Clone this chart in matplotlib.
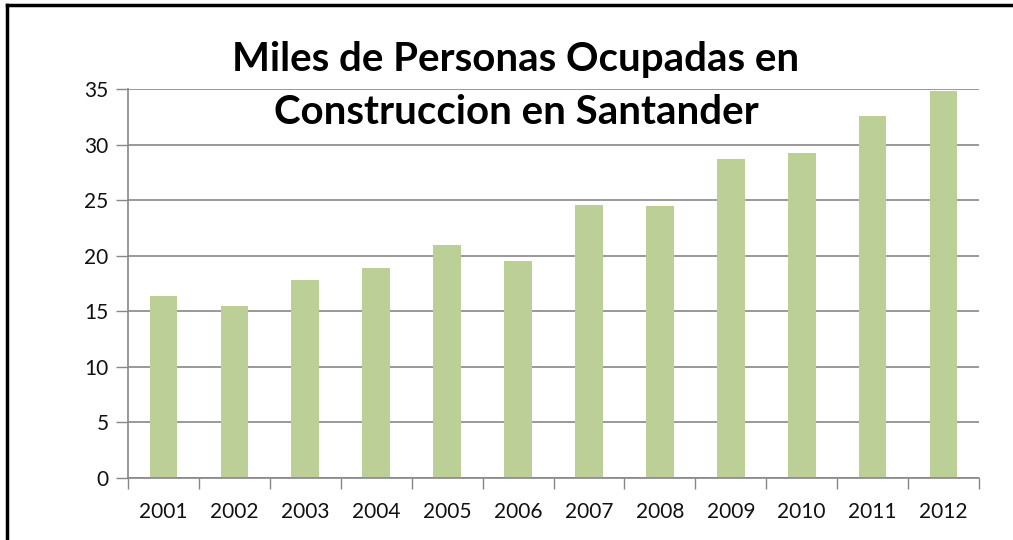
import numpy as np
import matplotlib.pyplot as plt
from matplotlib.lines import Line2D

years = ['2001', '2002', '2003', '2004', '2005', '2006',
         '2007', '2008', '2009', '2010', '2011', '2012']
ocupados = [16.35, 15.5, 17.85, 18.9, 21.0, 19.55,
            24.6, 24.5, 28.7, 29.2, 32.6, 34.85]

plt.rcParams['font.family'] = ['Lato', 'DejaVu Sans']

fig = plt.figure(figsize=(10.13, 5.4), dpi=100)
ax = fig.add_axes([128 / 1013, 1 - 478 / 540, (979 - 128) / 1013, (478 - 89) / 540])

x = np.arange(len(years))
ax.bar(x, ocupados, width=0.39, color='#BBCF97', zorder=2)

ax.set_xlim(-0.5, len(years) - 0.5)
ax.set_ylim(0, 35)
ax.set_yticks(np.arange(0, 36, 5))
ax.yaxis.grid(True, color='#878787', linewidth=1.2, zorder=0)

# ticks between categories, labels centred under bars
ax.set_xticks(np.arange(-0.5, len(years), 1))
ax.set_xticklabels([])
ax.set_xticks(x, minor=True)
ax.set_xticklabels(years, minor=True)
ax.tick_params(axis='x', which='major', length=8, color='#878787', width=1)
ax.tick_params(axis='x', which='minor', length=0, pad=17, labelsize=15, labelcolor='#111111')
ax.tick_params(axis='y', length=9, color='#878787', width=1, pad=5,
               labelsize=15, labelcolor='#111111')

for s in ['top', 'right']:
    ax.spines[s].set_visible(False)
for s in ['left', 'bottom']:
    ax.spines[s].set_color('#878787')
    ax.spines[s].set_linewidth(1.2)

fig.text(516 / 1013, 1 - 86 / 540,
         'Miles de Personas Ocupadas en\nConstruccion en Santander',
         ha='center', va='center', fontsize=29, fontweight='bold',
         linespacing=1.5, color='black', zorder=5)

# outer chart frame (left and top visible)
fig.add_artist(Line2D([7 / 1013, 7 / 1013], [0, 1 - 5 / 540], color='black', linewidth=2.5))
fig.add_artist(Line2D([7 / 1013, 1], [1 - 5 / 540, 1 - 5 / 540], color='black', linewidth=2.5))

fig.savefig('out.png', dpi=100)
